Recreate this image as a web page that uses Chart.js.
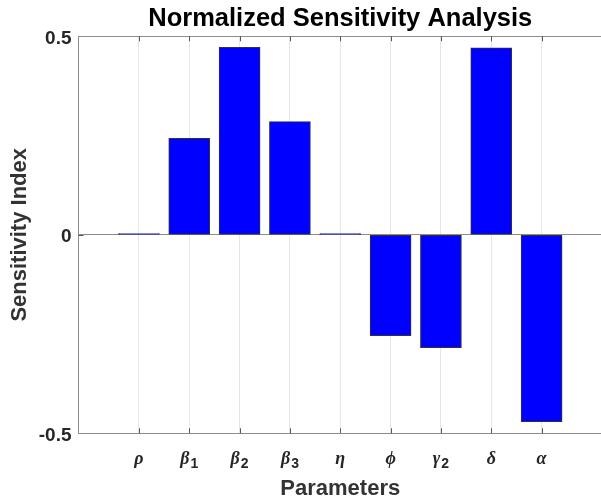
<!DOCTYPE html>
<html>
<head>
<meta charset="utf-8">
<title>Normalized Sensitivity Analysis</title>
<script src="https://cdn.jsdelivr.net/npm/chart.js@4/dist/chart.umd.min.js"></script>
<style>
  html, body { margin: 0; padding: 0; background: #ffffff; overflow: hidden; }
  #wrap { position: absolute; left: 0; top: 0; width: 602px; height: 503px; }
</style>
</head>
<body>
<div id="wrap"><canvas id="chart"></canvas></div>
<script>
// Parameters (symbol + subscript) and their normalized sensitivity indices
const paramSymbols    = ['ρ', 'β', 'β', 'β', 'η', 'ϕ', 'γ', 'δ', 'α'];
const paramSubscripts = ['',  '1', '2', '3', '',  '',  '2', '',  ''];
const sensitivity     = [0.003, 0.243, 0.472, 0.285, 0.003, -0.254, -0.284, 0.471, -0.471];
const yTickValues     = [-0.5, 0, 0.5];

const AXIS_GRAY = '#8c8c8c';
const TEXT_DARK = '#262626';
const SANS = '"Liberation Sans", Arial, sans-serif';

const positions = paramSymbols.map((_, i) => i + 1);
const barData = positions.map((x, i) => ({ x: x, y: sensitivity[i] }));

// Parameter labels with subscripts, plus inward tick marks on the box edges
const paramLabels = {
  id: 'paramLabels',
  afterDraw(chart) {
    const ctx = chart.ctx;
    const xs = chart.scales.x;
    const ys = chart.scales.y;
    const area = chart.chartArea;
    ctx.save();
    // inward tick marks
    ctx.strokeStyle = '#555555';
    ctx.lineWidth = 1;
    positions.forEach(v => {
      const px = Math.round(xs.getPixelForValue(v)) + 0.5;
      ctx.beginPath();
      ctx.moveTo(px, area.bottom); ctx.lineTo(px, area.bottom - 5);
      ctx.moveTo(px, area.top); ctx.lineTo(px, area.top + 5);
      ctx.stroke();
    });
    const y0 = Math.round(ys.getPixelForValue(0)) + 0.5;
    ctx.beginPath();
    ctx.moveTo(area.left, y0); ctx.lineTo(area.left + 5, y0);
    ctx.stroke();

    // tick labels
    const mainFont = 'italic bold 18px "Liberation Serif", "DejaVu Serif", serif';
    const subFont = 'bold 14px ' + SANS;
    const baseY = 464;
    ctx.fillStyle = TEXT_DARK;
    ctx.textBaseline = 'alphabetic';
    ctx.textAlign = 'left';
    positions.forEach((v, i) => {
      const cx = xs.getPixelForValue(v);
      ctx.font = mainFont;
      const wMain = ctx.measureText(paramSymbols[i]).width;
      ctx.font = subFont;
      const wSub = paramSubscripts[i] ? ctx.measureText(paramSubscripts[i]).width + 1 : 0;
      const x0 = cx - (wMain + wSub) / 2;
      ctx.font = mainFont;
      ctx.fillText(paramSymbols[i], x0, baseY);
      if (paramSubscripts[i]) {
        ctx.font = subFont;
        ctx.fillText(paramSubscripts[i], x0 + wMain + 1, baseY + 4);
      }
    });
    ctx.restore();
  }
};

new Chart(document.getElementById('chart'), {
  type: 'bar',
  data: {
    datasets: [{
      label: 'Sensitivity Index',
      data: barData,
      backgroundColor: '#0000ff',
      borderColor: '#333333',
      borderWidth: 1,
      borderSkipped: false,
      barThickness: 41
    }]
  },
  options: {
    responsive: true,
    maintainAspectRatio: false,
    animation: false,
    devicePixelRatio: 1,
    layout: { padding: 0 },
    plugins: {
      legend: { display: false },
      tooltip: { enabled: false },
      title: { display: false }
    },
    scales: {
      x: {
        type: 'linear',
        position: 'bottom',
        offset: false,
        min: -0.2,
        max: 10.2,
        afterBuildTicks: s => { s.ticks = positions.map(v => ({ value: v })); },
        afterFit: s => { s.height = 69.7; },
        ticks: { display: false },
        grid: { color: '#e6e6e6', lineWidth: 1, drawTicks: false, offset: false },
        border: { display: true, color: AXIS_GRAY, width: 1 },
        title: {
          display: true,
          text: 'Parameters',
          color: '#333333',
          font: { family: SANS, size: 22, weight: 'bold', lineHeight: 1 },
          padding: { top: 0, bottom: 3 }
        }
      },
      xTop: {
        type: 'linear',
        position: 'top',
        offset: false,
        min: -0.2,
        max: 10.2,
        afterFit: s => { s.height = 36.3; },
        ticks: { display: false },
        grid: { display: false, drawTicks: false, offset: false },
        border: { display: true, color: AXIS_GRAY, width: 1 },
        title: {
          display: true,
          text: 'Normalized Sensitivity Analysis',
          color: '#000000',
          font: { family: SANS, size: 25.5, weight: 'bold', lineHeight: 1 },
          padding: { top: 6, bottom: 0 }
        }
      },
      y: {
        type: 'linear',
        position: 'left',
        min: -0.5,
        max: 0.5,
        afterBuildTicks: s => { s.ticks = yTickValues.map(v => ({ value: v })); },
        afterFit: s => { s.width = 78.5; },
        ticks: {
          color: TEXT_DARK,
          padding: 7,
          labelOffset: 2,
          font: { family: SANS, size: 19, weight: 'bold' },
          callback: v => String(v)
        },
        grid: {
          drawTicks: false,
          lineWidth: 1,
          color: c => (c.tick && c.tick.value === 0 ? AXIS_GRAY : 'rgba(0,0,0,0)')
        },
        border: { display: true, color: AXIS_GRAY, width: 1 },
        title: {
          display: true,
          text: 'Sensitivity Index',
          color: '#333333',
          font: { family: SANS, size: 22, weight: 'bold', lineHeight: 1 },
          padding: { top: 9, bottom: 0 }
        }
      }
    }
  },
  plugins: [paramLabels]
});
</script>
</body>
</html>
